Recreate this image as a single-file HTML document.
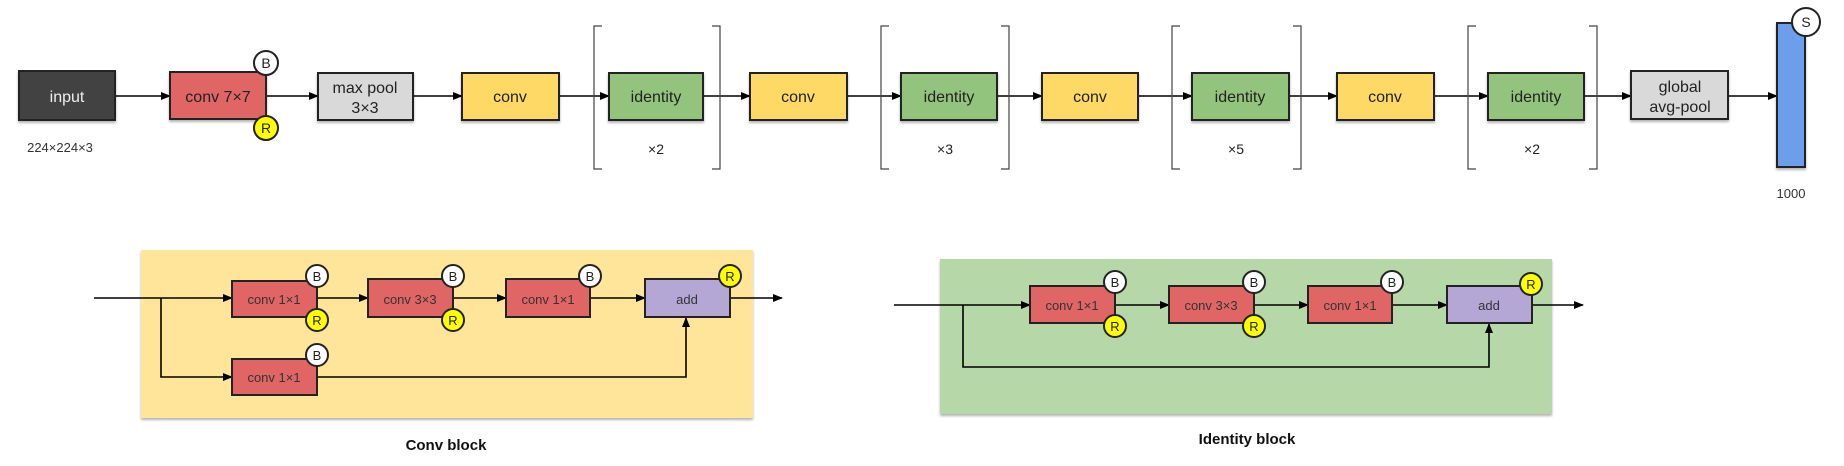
<!DOCTYPE html>
<html><head><meta charset="utf-8"><style>
html,body{margin:0;padding:0;background:#fff;}
svg{display:block;font-family:"Liberation Sans",sans-serif;}
</style></head><body>
<svg width="1844" height="466" viewBox="0 0 1844 466" xmlns="http://www.w3.org/2000/svg">
<defs>
<marker id="a" markerWidth="10" markerHeight="8" refX="9" refY="4" orient="auto" markerUnits="userSpaceOnUse"><path d="M0,0 L10,4 L0,8 z" fill="#000"/></marker>
<filter id="sh" x="-5%" y="-5%" width="110%" height="115%"><feDropShadow dx="0" dy="2" stdDeviation="1.2" flood-color="#000" flood-opacity="0.3"/></filter>
</defs>
<g stroke="#222" stroke-width="2">
<!-- top row connectors -->
<g stroke="#000" stroke-width="1.6" fill="none" marker-end="url(#a)">
<line x1="115" y1="96" x2="170" y2="96"/>
<line x1="266" y1="96" x2="318" y2="96"/>
<line x1="413" y1="96" x2="462" y2="96"/>
<line x1="559" y1="96" x2="609" y2="96"/>
<line x1="703" y1="96" x2="750" y2="96"/>
<line x1="847" y1="96" x2="901" y2="96"/>
<line x1="997" y1="96" x2="1042" y2="96"/>
<line x1="1138" y1="96" x2="1192" y2="96"/>
<line x1="1289" y1="96" x2="1337" y2="96"/>
<line x1="1434" y1="96" x2="1488" y2="96"/>
<line x1="1584" y1="96" x2="1631" y2="96"/>
<line x1="1728" y1="96" x2="1777" y2="96"/>
</g>
<!-- brackets -->
<g stroke="#444" stroke-width="1.2" fill="none">
<path d="M602,26 H594 V169 H602"/><path d="M712,26 H720 V169 H712"/>
<path d="M889,26 H881 V169 H889"/><path d="M1001,26 H1009 V169 H1001"/>
<path d="M1180,26 H1172 V169 H1180"/><path d="M1293,26 H1301 V169 H1293"/>
<path d="M1476,26 H1468 V169 H1476"/><path d="M1589,26 H1597 V169 H1589"/>
</g>
<g filter="url(#sh)">
<rect x="19" y="71" width="96" height="49" fill="#434343"/>
<rect x="170" y="72" width="96" height="47" fill="#e06666"/>
<rect x="318" y="73" width="95" height="47" fill="#d9d9d9"/>
<rect x="462" y="73" width="97" height="47" fill="#ffd966"/>
<rect x="609" y="73" width="94" height="47" fill="#93c47d"/>
<rect x="750" y="73" width="97" height="47" fill="#ffd966"/>
<rect x="901" y="73" width="96" height="47" fill="#93c47d"/>
<rect x="1042" y="73" width="96" height="47" fill="#ffd966"/>
<rect x="1192" y="73" width="97" height="47" fill="#93c47d"/>
<rect x="1337" y="73" width="97" height="47" fill="#ffd966"/>
<rect x="1488" y="73" width="96" height="47" fill="#93c47d"/>
<rect x="1631" y="71" width="97" height="48" fill="#d9d9d9"/>
<rect x="1777" y="23" width="28" height="144" fill="#6d9eeb"/>
</g>
<circle cx="266" cy="63" r="12" fill="#fff"/>
<circle cx="266" cy="128" r="12" fill="#ffff00"/>
<circle cx="1806" cy="22" r="14" fill="#fff"/>
</g>
<g font-size="16" text-anchor="middle" fill="#222">
<text x="67" y="102" fill="#eee">input</text>
<text x="218" y="102">conv 7×7</text>
<text x="365" y="93">max pool</text><text x="365" y="113">3×3</text>
<text x="510" y="102">conv</text>
<text x="656" y="102">identity</text>
<text x="798" y="102">conv</text>
<text x="949" y="102">identity</text>
<text x="1090" y="102">conv</text>
<text x="1240" y="102">identity</text>
<text x="1385" y="102">conv</text>
<text x="1536" y="102">identity</text>
<text x="1680" y="92">global</text><text x="1680" y="112">avg-pool</text>
<text x="266" y="68" font-size="14">B</text>
<text x="266" y="133" font-size="14">R</text>
<text x="1806" y="27" font-size="14">S</text>
<text x="656" y="154" font-size="14">×2</text>
<text x="945" y="154" font-size="14">×3</text>
<text x="1236" y="154" font-size="14">×5</text>
<text x="1532" y="154" font-size="14">×2</text>
<text x="60" y="152" font-size="13" fill="#333">224×224×3</text>
<text x="1791" y="198" font-size="13" fill="#333">1000</text>
</g>

<!-- Conv block -->
<rect x="141" y="250" width="612" height="168" fill="#ffe599" filter="url(#sh)"/>
<g stroke="#000" stroke-width="1.6" fill="none">
<line x1="94" y1="298" x2="232" y2="298" marker-end="url(#a)"/>
<line x1="317" y1="298" x2="368" y2="298" marker-end="url(#a)"/>
<line x1="453" y1="298" x2="506" y2="298" marker-end="url(#a)"/>
<line x1="590" y1="298" x2="645" y2="298" marker-end="url(#a)"/>
<line x1="730" y1="298" x2="782" y2="298" marker-end="url(#a)"/>
<polyline points="161,298 161,377 232,377" marker-end="url(#a)"/>
<polyline points="317,377 686,377 686,318" marker-end="url(#a)"/>
</g>
<g stroke="#222" stroke-width="2">
<rect x="232" y="281" width="85" height="36" fill="#e06666"/>
<rect x="368" y="279" width="85" height="38" fill="#e06666"/>
<rect x="506" y="279" width="84" height="38" fill="#e06666"/>
<rect x="645" y="279" width="85" height="38" fill="#b4a7d6"/>
<rect x="232" y="359" width="85" height="36" fill="#e06666"/>
<circle cx="317" cy="276" r="11" fill="#fff"/><circle cx="317" cy="320" r="11" fill="#ffff00"/>
<circle cx="453" cy="276" r="11" fill="#fff"/><circle cx="453" cy="320" r="11" fill="#ffff00"/>
<circle cx="590" cy="276" r="11" fill="#fff"/>
<circle cx="730" cy="276" r="11" fill="#ffff00"/>
<circle cx="317" cy="355" r="11" fill="#fff"/>
</g>

<!-- Identity block -->
<rect x="940" y="259" width="612" height="155" fill="#b6d7a8" filter="url(#sh)"/>
<g stroke="#000" stroke-width="1.6" fill="none">
<line x1="894" y1="305" x2="1030" y2="305" marker-end="url(#a)"/>
<line x1="1115" y1="305" x2="1169" y2="305" marker-end="url(#a)"/>
<line x1="1254" y1="305" x2="1308" y2="305" marker-end="url(#a)"/>
<line x1="1392" y1="305" x2="1447" y2="305" marker-end="url(#a)"/>
<line x1="1532" y1="305" x2="1583" y2="305" marker-end="url(#a)"/>
<polyline points="963,305 963,367 1489,367 1489,324" marker-end="url(#a)"/>
</g>
<g stroke="#222" stroke-width="2">
<rect x="1030" y="286" width="85" height="37" fill="#e06666"/>
<rect x="1169" y="286" width="85" height="37" fill="#e06666"/>
<rect x="1308" y="286" width="84" height="37" fill="#e06666"/>
<rect x="1447" y="286" width="85" height="37" fill="#b4a7d6"/>
<circle cx="1115" cy="282" r="11" fill="#fff"/><circle cx="1115" cy="326" r="11" fill="#ffff00"/>
<circle cx="1254" cy="282" r="11" fill="#fff"/><circle cx="1254" cy="326" r="11" fill="#ffff00"/>
<circle cx="1392" cy="282" r="11" fill="#fff"/>
<circle cx="1531" cy="284" r="11" fill="#ffff00"/>
</g>
<g font-size="13" text-anchor="middle" fill="#333">
<text x="274" y="304">conv 1×1</text><text x="410" y="304">conv 3×3</text>
<text x="548" y="304">conv 1×1</text><text x="687" y="304">add</text>
<text x="274" y="382">conv 1×1</text>
<text x="1072" y="310">conv 1×1</text><text x="1211" y="310">conv 3×3</text>
<text x="1350" y="310">conv 1×1</text><text x="1489" y="310">add</text>
<g font-size="13" fill="#222">
<text x="317" y="281">B</text><text x="317" y="325">R</text>
<text x="453" y="281">B</text><text x="453" y="325">R</text>
<text x="590" y="281">B</text><text x="730" y="281">R</text>
<text x="317" y="360">B</text>
<text x="1115" y="287">B</text><text x="1115" y="331">R</text>
<text x="1254" y="287">B</text><text x="1254" y="331">R</text>
<text x="1392" y="287">B</text><text x="1531" y="289">R</text>
</g>
<text x="446" y="450" font-size="15" font-weight="bold" fill="#111">Conv block</text>
<text x="1247" y="444" font-size="15" font-weight="bold" fill="#111">Identity block</text>
</g>
</svg>
</body></html>
